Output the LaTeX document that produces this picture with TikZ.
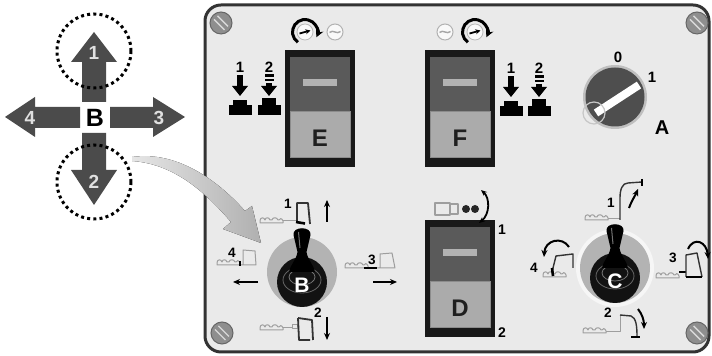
\documentclass[tikz,border=0pt]{standalone}
\usepackage{fontspec}
\setmainfont{Liberation Sans}
\usetikzlibrary{arrows.meta}

\definecolor{panelbg}{HTML}{EAEAEA}
\definecolor{crossgray}{HTML}{4B4B4B}
\definecolor{rockdark}{HTML}{5A5A5A}
\definecolor{rocklight}{HTML}{ABABAB}
\definecolor{screwgray}{HTML}{8E8E8E}
\definecolor{knobring}{HTML}{B3B3B3}
\definecolor{icongray}{HTML}{9E9E9E}
\definecolor{keydark}{HTML}{4E4E4E}

\tikzset{
  num/.style={inner sep=0pt, font=\fontsize{6.8}{7}\selectfont\bfseries},
  bignum/.style={inner sep=0pt, text=white!88!black, font=\fontsize{9.5}{10}\selectfont\bfseries},
  letter/.style={inner sep=0pt, text=black!88, font=\fontsize{12}{12}\selectfont\bfseries},
  knoblabel/.style={inner sep=0pt, text=white, font=\fontsize{10.5}{11}\selectfont\bfseries},
  motion/.style={line width=1pt, -{Stealth[length=3.5pt,width=3pt]}},
  iconline/.style={draw=icongray, line width=0.5pt, line join=round},
  armline/.style={draw=black!80, line width=0.7pt, line join=round},
  hotpart/.style={draw=black, line width=1.3pt},
  ringdots/.style={draw=black, line width=1.5pt, dash pattern=on 1.5pt off 1.6pt},
  crossarrow/.style={fill=crossgray},
  % slotted screw head
  screw/.pic={
    \fill[screwgray] (0,0) circle (11);
    \draw[black!60, line width=0.5pt] (0,0) circle (11);
    \draw[gray!30, line width=0.7pt] (-7,-3.5) -- (3.5,7);
    \draw[gray!30, line width=0.7pt] (-3.5,-7) -- (7,3.5);
  },
  % rocker switch with a letter on the lower half
  rocker/.pic={
    \fill[black!90] (-35,0) rectangle (35,117);
    \fill[rockdark] (-30,7) rectangle (30,62);
    \fill[rocklight] (-30,62) rectangle (30,108);
    \draw[black!45, line width=0.5pt] (-30,62) rectangle (30,108);
    \fill[gray!60] (-17,29) rectangle (17,36);
    \node[letter] (-label) at (0,88) {\tikzpictext};
  },
  % motor symbol with rotation arrow
  rotbig/.pic={
    \draw[gray!55, fill=white!70!panelbg, line width=0.4pt] (0,0) circle (8);
    \draw[black, line width=0.9pt, -{Stealth[length=2.5pt,width=2.5pt]}] (-5.5,1.5) -- (5.5,-1.5);
    \draw[black, line width=1.5pt, -{Stealth[length=4pt,width=4pt]}]
      (-235:12.5) arc[start angle=-235, end angle=25, radius=12.5];
  },
  rotsmall/.pic={
    \draw[gray!60, fill=white!70!panelbg, line width=0.5pt] (0,0) circle (8);
    \draw[gray!70, line width=0.7pt] (-5.5,0.5) .. controls (-2,-3) and (2,3) .. (5.5,-0.5);
  },
  % push-button icons
  pressone/.pic={
    \node[num, font=\fontsize{7.5}{8}\selectfont\bfseries] (-n) at (0,0) {1};
    \fill[black] (-3,8) rectangle (3,19);
    \fill[black] (-8,19) -- (8,19) -- (0,29) -- cycle;
    \fill[black] (-7,33) rectangle (7,39);
    \fill[black] (-11.5,38.5) rectangle (11.5,48);
  },
  presstwo/.pic={
    \node[num, font=\fontsize{7.5}{8}\selectfont\bfseries] (-n) at (0,0) {2};
    \fill[black] (-4.5,7.5) rectangle (4.5,9.8);
    \fill[black] (-4.5,11.8) rectangle (4.5,14);
    \fill[black] (-3,16) rectangle (3,19);
    \fill[black] (-8,19) -- (8,19) -- (0,29) -- cycle;
    \fill[black] (-7,31) rectangle (7,39);
    \fill[black] (-11.5,38.5) rectangle (11.5,48);
  },
  % tracked undercarriage outline
  crawler/.pic={
    \draw[iconline] (0,0) -- (0,-2.5) .. controls (0.5,-6) and (4,-6) .. (5,-3)
      .. controls (5.5,-6) and (9,-6) .. (10,-3) -- (12,-3)
      .. controls (12.5,-6) and (17,-6) .. (18,-3) -- (19,-3)
      .. controls (19.5,-5) and (22,-5) .. (23,-2) -- (23,0) -- cycle;
  },
  % joystick seen from above
  joystick/.pic={
    \fill[knobring] (0,0) circle (35);
    \fill[black!93] (0,10) circle (25);
    \draw[black!60, line width=0.4pt] (0,8) ellipse (19 and 13);
    \draw[black!55, line width=0.4pt] (0,5) ellipse (13 and 8);
    \fill[black] (-4.5,-20) -- (-8.5,-37) .. controls (-10,-46) and (10,-46) .. (8.5,-37)
      -- (4.5,-20) .. controls (6,-11) and (12,-7) .. (13,0) -- (-13,0)
      .. controls (-12,-7) and (-6,-11) .. (-4.5,-20) -- cycle;
    \draw[black!55, line width=0.5pt] (-3.5,-40) -- (-2,-24);
    \node[knoblabel] (-label) at (0,13) {\tikzpictext};
  },
}

\begin{document}
\begin{tikzpicture}[x=0.5pt, y=-0.5pt]
\useasboundingbox (0,0) rectangle (712,356);
\fill[white] (0,0) rectangle (712,356);

% ---------- direction cross ----------
\fill[crossarrow] (82,102) -- (82,62) -- (71,62) -- (94,32) -- (117,62) -- (106,62) -- (106,102) -- cycle;
\fill[crossarrow] (82,133) -- (82,170) -- (71,170) -- (94,205) -- (117,170) -- (106,170) -- (106,133) -- cycle;
\fill[crossarrow] (80,107) -- (35,107) -- (35,97) -- (5,117) -- (35,137) -- (35,128) -- (80,128) -- cycle;
\fill[crossarrow] (110,107) -- (153,107) -- (153,97) -- (185,117) -- (153,137) -- (153,128) -- (110,128) -- cycle;
\node[inner sep=0pt, font=\fontsize{12.5}{13}\selectfont\bfseries] (crossB) at (95,118) {B};
\node[bignum] (cross1) at (94,53) {1};
\node[bignum] (cross2) at (94,182) {2};
\node[bignum] (cross4) at (30,118) {4};
\node[bignum] (cross3) at (159,118) {3};
\draw[ringdots] (94,51) circle (37);
\draw[ringdots] (94,182) circle (37);

% ---------- panel ----------
\draw[line width=1.5pt, draw=black!80, fill=panelbg, rounded corners=8pt] (205,5) rectangle (709,352);
\pic at (221,23) {screw};
\pic at (697,23) {screw};
\pic at (222,333) {screw};
\pic at (697,333) {screw};

% rocker switches
\pic[pic text=E] (E) at (320,50) {rocker};
\pic[pic text=F] (F) at (460,50) {rocker};
\pic[pic text=D] (D) at (460,220) {rocker};
\node[num, font=\fontsize{7}{7}\selectfont\bfseries] (d1) at (502,230) {1};
\node[num, font=\fontsize{7}{7}\selectfont\bfseries] (d2) at (502,333) {2};

% rotation symbols
\pic at (305,32) {rotbig};
\pic at (335,32) {rotsmall};
\pic at (445,32) {rotsmall};
\pic at (475,32) {rotbig};

% push-button symbols
\pic (pe1) at (240,67) {pressone};
\pic (pe2) at (269,67) {presstwo};
\pic (pf1) at (511,68) {pressone};
\pic (pf2) at (539,68) {presstwo};

% key switch A
\fill[gray!50] (615,97) circle (32);
\fill[keydark] (615,97) circle (29.5);
\draw[white, line width=4pt] (596,113) -- (639,85);
\draw[gray!45, line width=0.6pt] (594,113) circle (11);
\node[num, font=\fontsize{7.5}{7}\selectfont\bfseries] (k0) at (618,57) {0};
\node[num, font=\fontsize{7.5}{7}\selectfont\bfseries] (k1) at (652,77) {1};
\node[inner sep=0pt, font=\fontsize{10}{10}\selectfont\bfseries] (kA) at (662,128) {A};

% symbol above D
\draw[iconline, line width=0.6pt] (435,203) rectangle (450,215);
\draw[iconline, line width=0.6pt] (450,204) rectangle (458,214);
\fill[black!85] (466,209) circle (4);
\fill[black!85] (475,209) circle (4);
\draw[black, line width=0.9pt, {Stealth[length=3pt,width=2.5pt]}-{Stealth[length=3pt,width=2.5pt]}]
  (481,190) .. controls (490,198) and (490,214) .. (479,223);

% joysticks
\pic[pic text=B] (B) at (302,272) {joystick};
\fill[white!55!panelbg] (615,268) circle (39);
\pic[pic text=C] (C) at (615,268) {joystick};

% ---------- motions of joystick B ----------
% 1: boom up
\pic at (260,223) {crawler};
\draw[iconline] (283,221) -- (296,221);
\draw[armline, line width=0.9pt] (297,222) -- (297,203) -- (308,203) -- (310,224);
\draw[hotpart] (296,222) -- (305,223.5);
\node[num] (b1) at (288,204) {1};
\draw[motion] (327,222) -- (327,200);
% 4: bucket in
\pic at (217,265) {crawler};
\draw[iconline] (240,265) -- (243,265) -- (243,250) -- (255,251) -- (256,265) -- cycle;
\draw[hotpart] (240,261) -- (240,266);
\node[num] (b4) at (232,253) {4};
\draw[motion] (258,282) -- (233,282);
% 3: bucket out
\pic at (345,268) {crawler};
\draw[hotpart] (364,268) -- (377,268);
\draw[iconline] (377,268) -- (380,268) -- (380,254) -- (392,253) -- (395,268) -- (380,268);
\node[num] (b3) at (372,260) {3};
\draw[motion] (373,282) -- (397,282);
% 2: boom down
\pic at (260,330) {crawler};
\draw[iconline] (283,328) -- (292,328);
\draw[iconline] (292,325) rectangle (297,329);
\draw[armline, line width=0.9pt] (298,318) -- (299,340) -- (310,340);
\draw[armline, line width=0.9pt] (298,318) -- (312,320) -- (313,340);
\node[num] (b2) at (318,313) {2};
\draw[motion] (327,317) -- (327,340);

% ---------- motions of joystick C ----------
% 1: stick out
\pic at (585,220) {crawler};
\draw[iconline] (608,219) -- (620,219);
\draw[armline] (620,220) -- (620,198) .. controls (620,190) and (622,183) .. (628,183) -- (642,182);
\draw[hotpart] (642,179) -- (642,186);
\node[num] (c1) at (611,203) {1};
\draw[motion] (629,208) .. controls (632,200) and (635,196) .. (638,189);
% 4: swing left
\pic at (543,277) {crawler};
\draw[armline] (552,272) -- (556,256) -- (573,254) -- (573,268);
\draw[hotpart] (552,268) -- (553,276);
\node[num] (c4) at (534,268) {4};
\draw[motion] (569,247) .. controls (562,236) and (545,240) .. (544,257);
% 3: swing right
\pic at (656,278) {crawler};
\draw[hotpart] (679,272) -- (686,272);
\draw[armline] (686,277) -- (686,255) -- (697,253) -- (702,277);
\draw[hotpart] (686,277) -- (702,277);
\node[num] (c3) at (673,258) {3};
\draw[motion] (688,249) .. controls (694,236) and (707,242) .. (708,259);
% 2: stick in
\pic at (583,333) {crawler};
\draw[iconline] (606,332) -- (620,332) -- (620,315);
\draw[armline] (620,315) -- (631,316) .. controls (636,318) and (637,325) .. (637,337);
\draw[hotpart] (631,337) -- (640,337);
\node[num] (c2) at (608,313) {2};
\draw[motion] (638,309) .. controls (642,314) and (644,320) .. (644,329);

% ---------- pointer from the cross to joystick B ----------
\fill[left color=gray!20, right color=gray!62]
  (132,157) .. controls (180,150) and (222,185) .. (245,211)
  -- (252,206) -- (261,243) -- (223,229) -- (231,222)
  .. controls (210,198) and (178,164) .. (132,161) -- cycle;
\end{tikzpicture}
\end{document}
